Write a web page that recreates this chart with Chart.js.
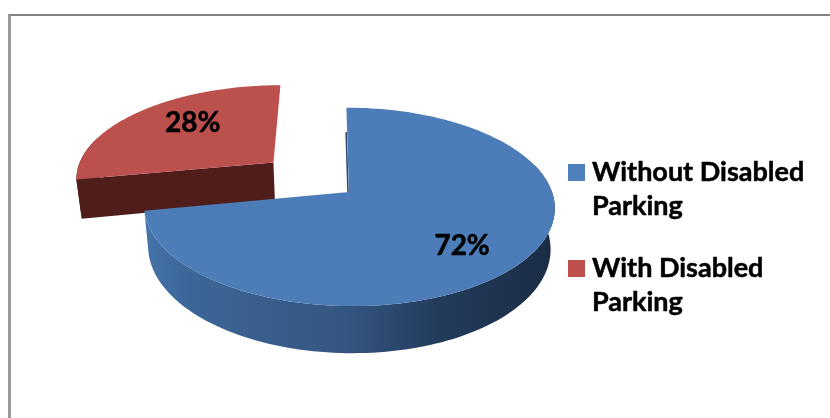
<!DOCTYPE html>
<html>
<head>
<meta charset="utf-8">
<title>Disabled parking share</title>
<script src="https://cdn.jsdelivr.net/npm/chart.js@4"></script>
<style>
  html, body { margin: 0; padding: 0; background: #fff; overflow: hidden; }
  #wrap { position: relative; width: 830px; height: 418px; }
  #frame { position: absolute; left: 8px; top: 14px; right: 0; bottom: 0;
           border-top: 2px solid #828282; border-left: 3px solid #9a9a9a; }
  canvas { position: absolute; left: 0; top: 0; }
</style>
</head>
<body>
<div id="wrap">
  <div id="frame"></div>
  <canvas id="chart" width="830" height="418"></canvas>
</div>
<script>
const categories = ["Without Disabled Parking", "With Disabled Parking"];
const legendLines = [["Without Disabled", "Parking"], ["With Disabled", "Parking"]];
const shares = [72, 28];
const sliceOffsets = [0, 60];
const topColors = ["#4c7db9", "#bb504d"];
const legendColors = ["#4f81bd", "#c0504d"];

// Camera used to lay the pie's plan view down as a thick tilted disc.
const CAM = { vx: 329, shift: 20, sx: 203, y0: 192, sy: 97, k: 0.15,
              depth: 40, baseX: 345, baseScale: 0.98 };
const OFFSET_PER_RADIUS = 120;   // sliceOffsets value that equals one radius

function projectTop(u, v) {
  const w = 1 - CAM.k * v;
  return { x: CAM.vx + (CAM.shift + CAM.sx * u) / w, y: CAM.y0 + CAM.sy * v / w, w };
}
function projectBase(u, v) {
  const p = projectTop(u, v);
  return { x: CAM.baseX + (p.x - CAM.baseX) * CAM.baseScale, y: p.y + CAM.depth / p.w };
}
function tracePath(ctx, pts) {
  ctx.beginPath();
  pts.forEach((p, i) => i ? ctx.lineTo(p.x, p.y) : ctx.moveTo(p.x, p.y));
  ctx.closePath();
}
function sliceGeometry(arc) {
  const mid = (arc.startAngle + arc.endAngle) / 2;
  const pull = (arc.options.offset || 0) / OFFSET_PER_RADIUS;
  const ou = Math.cos(mid) * pull, ov = Math.sin(mid) * pull;
  const rim = [], frontRim = [];
  const steps = 160;
  for (let i = 0; i <= steps; i++) {
    const a = arc.startAngle + (arc.endAngle - arc.startAngle) * i / steps;
    const q = [ou + Math.cos(a), ov + Math.sin(a)];
    rim.push(q);
    // Only the part of the rim that faces the viewer gets an outer wall.
    if (Math.sin(a) > -0.3) frontRim.push(q);
  }
  return { mid, ou, ov, rim, frontRim };
}
function band(ctx, plan, fill) {
  const upper = plan.map(q => projectTop(q[0], q[1]));
  const lower = plan.map(q => projectBase(q[0], q[1])).reverse();
  tracePath(ctx, upper.concat(lower));
  ctx.fillStyle = fill;
  ctx.fill();
}

const tiltedPie = {
  id: "tiltedPie",
  beforeDatasetsDraw(chart) {
    const ctx = chart.ctx;
    const arcs = chart.getDatasetMeta(0).data;
    ctx.save();
    // The pulled-out slice sits behind the main one.
    [1, 0].forEach(i => {
      const arc = arcs[i];
      const g = sliceGeometry(arc);
      let wall = "#4f1e1b";
      if (i === 0) {
        wall = ctx.createLinearGradient(147, 0, 552, 0);
        wall.addColorStop(0, "#4473a8");
        wall.addColorStop(0.1, "#3c6698");
        wall.addColorStop(0.5, "#34557f");
        wall.addColorStop(0.72, "#233b5b");
        wall.addColorStop(1, "#1b2d46");
      }
      band(ctx, g.frontRim, wall);
      if (arc.options.offset) {
        band(ctx, [g.rim[0], [g.ou, g.ov]], wall);
      } else {
        // Thin sliver of the inner wall along the slice's first edge.
        const a = projectTop(g.ou, g.ov - 0.68);
        const b = projectTop(g.ou, g.ov);
        ctx.beginPath();
        ctx.moveTo(a.x - 1, a.y);
        ctx.lineTo(b.x - 1, b.y);
        ctx.lineWidth = 1.6;
        ctx.strokeStyle = "#2b4a72";
        ctx.stroke();
      }
      const face = [projectTop(g.ou, g.ov)].concat(g.rim.map(q => projectTop(q[0], q[1])));
      tracePath(ctx, face);
      ctx.fillStyle = arc.options.backgroundColor;
      ctx.fill();
    });
    ctx.restore();
    return false;
  },
  afterDraw(chart) {
    const ctx = chart.ctx;
    const arcs = chart.getDatasetMeta(0).data;
    const values = chart.data.datasets[0].data;
    ctx.save();
    ctx.fillStyle = "#000";
    ctx.strokeStyle = "#000";
    ctx.lineWidth = 0.5;
    ctx.lineJoin = "round";
    ctx.textAlign = "center";
    ctx.textBaseline = "middle";
    ctx.font = "bold 28px Lato";
    arcs.forEach((arc, i) => {
      const g = sliceGeometry(arc);
      const a = g.mid + 6 * Math.PI / 180;
      const p = projectTop(g.ou + 0.7 * Math.cos(a), g.ov + 0.7 * Math.sin(a));
      ctx.fillText(values[i] + "%", p.x + 4, p.y + 1.5);
      ctx.strokeText(values[i] + "%", p.x + 4, p.y + 1.5);
    });
    // Two-line legend entries to the right of the disc.
    ctx.textAlign = "left";
    ctx.textBaseline = "alphabetic";
    ctx.font = "bold 27px Lato";
    const tops = [164, 260];
    legendLines.forEach((lines, i) => {
      ctx.fillStyle = legendColors[i];
      ctx.fillRect(568, tops[i], 17, 17);
      ctx.fillStyle = "#000";
      lines.forEach((t, j) => {
        const y = tops[i] + 17 + j * 34;
        ctx.fillText(t, 592, y);
        ctx.strokeText(t, 592, y);
      });
    });
    ctx.restore();
  }
};

new Chart(document.getElementById("chart"), {
  type: "pie",
  data: {
    labels: categories,
    datasets: [{ data: shares, backgroundColor: topColors, offset: sliceOffsets, borderWidth: 0 }]
  },
  options: {
    responsive: false,
    animation: false,
    rotation: 0,
    plugins: { legend: { display: false }, tooltip: { enabled: false } }
  },
  plugins: [tiltedPie]
});
</script>
</body>
</html>
